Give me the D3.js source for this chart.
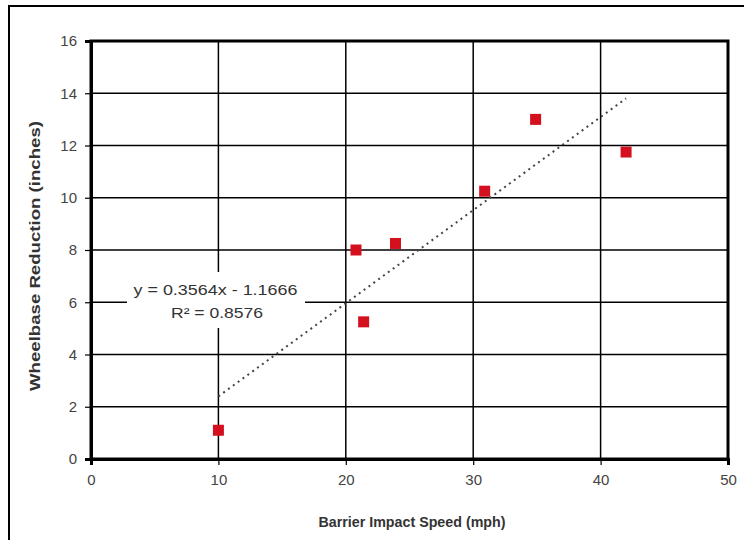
<!DOCTYPE html>
<html><head><meta charset="utf-8">
<script src="https://cdn.jsdelivr.net/npm/d3@7"></script>
<style>body{margin:0;background:#fff}svg{display:block}text{font-family:"Liberation Sans",Arial,sans-serif}</style>
</head><body><svg id="c" width="744" height="540"></svg>
<script>
const speeds = [10, 20.8, 21.4, 23.9, 30.9, 34.9, 42.0];
const reductions = [1.1, 8.0, 5.25, 8.25, 10.25, 13.0, 11.75];
const xTicks = [0, 10, 20, 30, 40, 50];
const yTicks = [0, 2, 4, 6, 8, 10, 12, 14, 16];
const slope = 0.3564, intercept = -1.1666, r2 = 0.8576;
const trendRange = [10, 42];

const svg = d3.select("#c");
const L = 91, R = 728, T = 41, B = 459;
const x = d3.scaleLinear().domain([0, 50]).range([L, R]);
const y = d3.scaleLinear().domain([0, 16]).range([B, T]);

// outer frame
svg.append("rect").attr("x", 9).attr("y", 6).attr("width", 800).attr("height", 600)
  .attr("fill", "none").attr("stroke", "#000").attr("stroke-width", 2);

// gridlines
svg.append("g").selectAll("line").data(yTicks).join("line")
  .attr("x1", L).attr("x2", R).attr("y1", d => y(d)).attr("y2", d => y(d))
  .attr("stroke", "#000").attr("stroke-width", 1.5);
svg.append("g").selectAll("line").data(xTicks).join("line")
  .attr("y1", T).attr("y2", B).attr("x1", d => x(d)).attr("x2", d => x(d))
  .attr("stroke", "#000").attr("stroke-width", 1.5);

// plot border
svg.append("rect").attr("x", L).attr("y", T).attr("width", R - L).attr("height", B - T)
  .attr("fill", "none").attr("stroke", "#000").attr("stroke-width", 3);

// axes
const yAxis = svg.append("g").attr("transform", `translate(${L},0)`)
  .call(d3.axisLeft(y).tickValues(yTicks).tickSize(6).tickPadding(8));
const xAxis = svg.append("g").attr("transform", `translate(0,${B})`)
  .call(d3.axisBottom(x).tickValues(xTicks).tickSize(6).tickPadding(9));
[yAxis, xAxis].forEach(a => {
  a.select(".domain").attr("stroke", "#000").attr("stroke-width", 3);
  a.selectAll(".tick line").attr("stroke", "#000").attr("stroke-width", 1.2);
  a.selectAll(".tick text").attr("fill", "#444").style("font-size", "15px")
    .style("font-family", '"Liberation Sans",Arial,sans-serif');
});

// trendline
svg.append("line")
  .attr("x1", x(trendRange[0])).attr("y1", y(slope * trendRange[0] + intercept))
  .attr("x2", x(trendRange[1])).attr("y2", y(slope * trendRange[1] + intercept))
  .attr("stroke", "#444").attr("stroke-width", 2).attr("stroke-dasharray", "2,4");

// equation label box
svg.append("rect").attr("x", 127).attr("y", 272).attr("width", 178).attr("height", 56).attr("fill", "#fff");
const eqStyle = t => t.attr("text-anchor", "middle").attr("fill", "#333").style("font-size", "14.5px")
  .attr("lengthAdjust", "spacingAndGlyphs");
svg.append("text").call(eqStyle).attr("x", 215.5).attr("y", 295).attr("textLength", 164)
  .text(`y = ${slope}x - ${Math.abs(intercept).toFixed(4)}`);
svg.append("text").call(eqStyle).attr("x", 217).attr("y", 318).attr("textLength", 92)
  .text(`R² = ${r2}`);

// points
svg.append("g").selectAll("rect").data(speeds.map((s, i) => [s, reductions[i]])).join("rect")
  .attr("x", d => x(d[0]) - 5.5).attr("y", d => y(d[1]) - 5.5).attr("width", 11).attr("height", 11)
  .attr("fill", "#d4101e");

// axis titles
svg.append("text").attr("x", 412).attr("y", 527).attr("text-anchor", "middle")
  .attr("fill", "#333").style("font-size", "15px").style("font-weight", "bold")
  .attr("textLength", 187).attr("lengthAdjust", "spacingAndGlyphs")
  .text("Barrier Impact Speed (mph)");
svg.append("text").attr("transform", "translate(40,256) rotate(-90)").attr("text-anchor", "middle")
  .attr("fill", "#333").style("font-size", "14px").style("font-weight", "bold")
  .attr("textLength", 270).attr("lengthAdjust", "spacingAndGlyphs")
  .text("Wheelbase Reduction (inches)");
</script></body></html>
